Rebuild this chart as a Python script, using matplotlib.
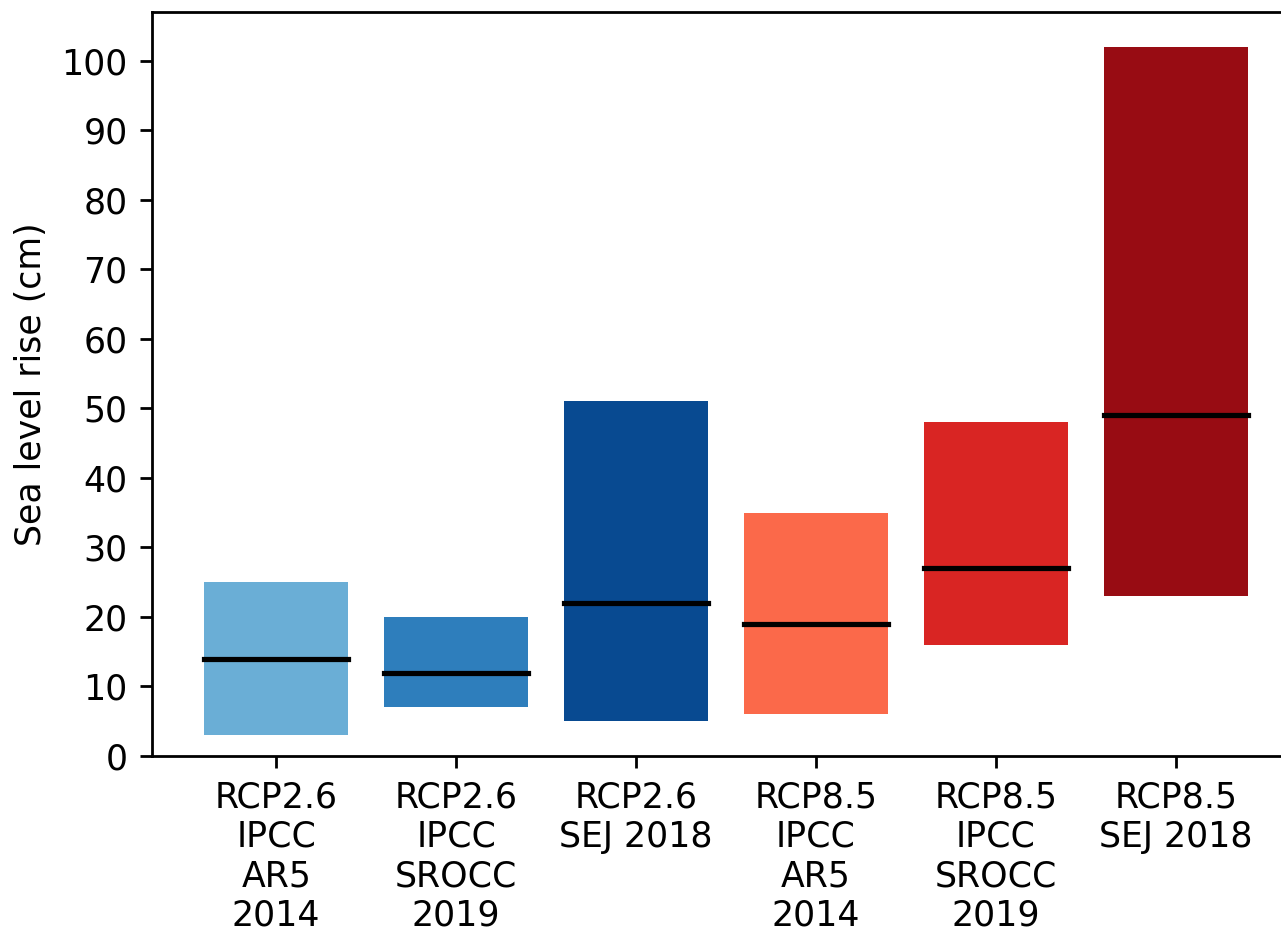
import matplotlib.pyplot as plt
from matplotlib import cm

# Projected sea level rise ranges (cm), low / median / high
labels = ['RCP2.6\nIPCC\nAR5\n2014', 'RCP2.6\nIPCC\nSROCC\n2019', 'RCP2.6\nSEJ 2018',
          'RCP8.5\nIPCC\nAR5\n2014', 'RCP8.5\nIPCC\nSROCC\n2019', 'RCP8.5\nSEJ 2018']
low = [3, 7, 5, 6, 16, 23]
median = [14, 12, 22, 19, 27, 49]
high = [25, 20, 51, 35, 48, 102]

colors = list(cm.Blues([0.5, 0.7, 0.9])) + list(cm.Reds([0.5, 0.7, 0.9]))

fig = plt.figure(figsize=(5.124, 3.716), dpi=250)
ax = fig.add_axes([0.1187, 0.1862, 0.896, 0.8009])

x = range(len(labels))
heights = [h - l for h, l in zip(high, low)]
ax.bar(x, heights, bottom=low, width=0.8, color=colors)
for i, m in enumerate(median):
    ax.plot([i - 0.4, i + 0.4], [m, m], color='black', linewidth=1.5)

ax.set_xticks(list(x))
ax.set_xticklabels(labels)
ax.set_xlim(-0.69, 5.69)
ax.set_ylim(0, 107)
ax.set_yticks(range(0, 101, 10))
ax.set_ylabel('Sea level rise (cm)')

fig.savefig('out.png', dpi=250)
